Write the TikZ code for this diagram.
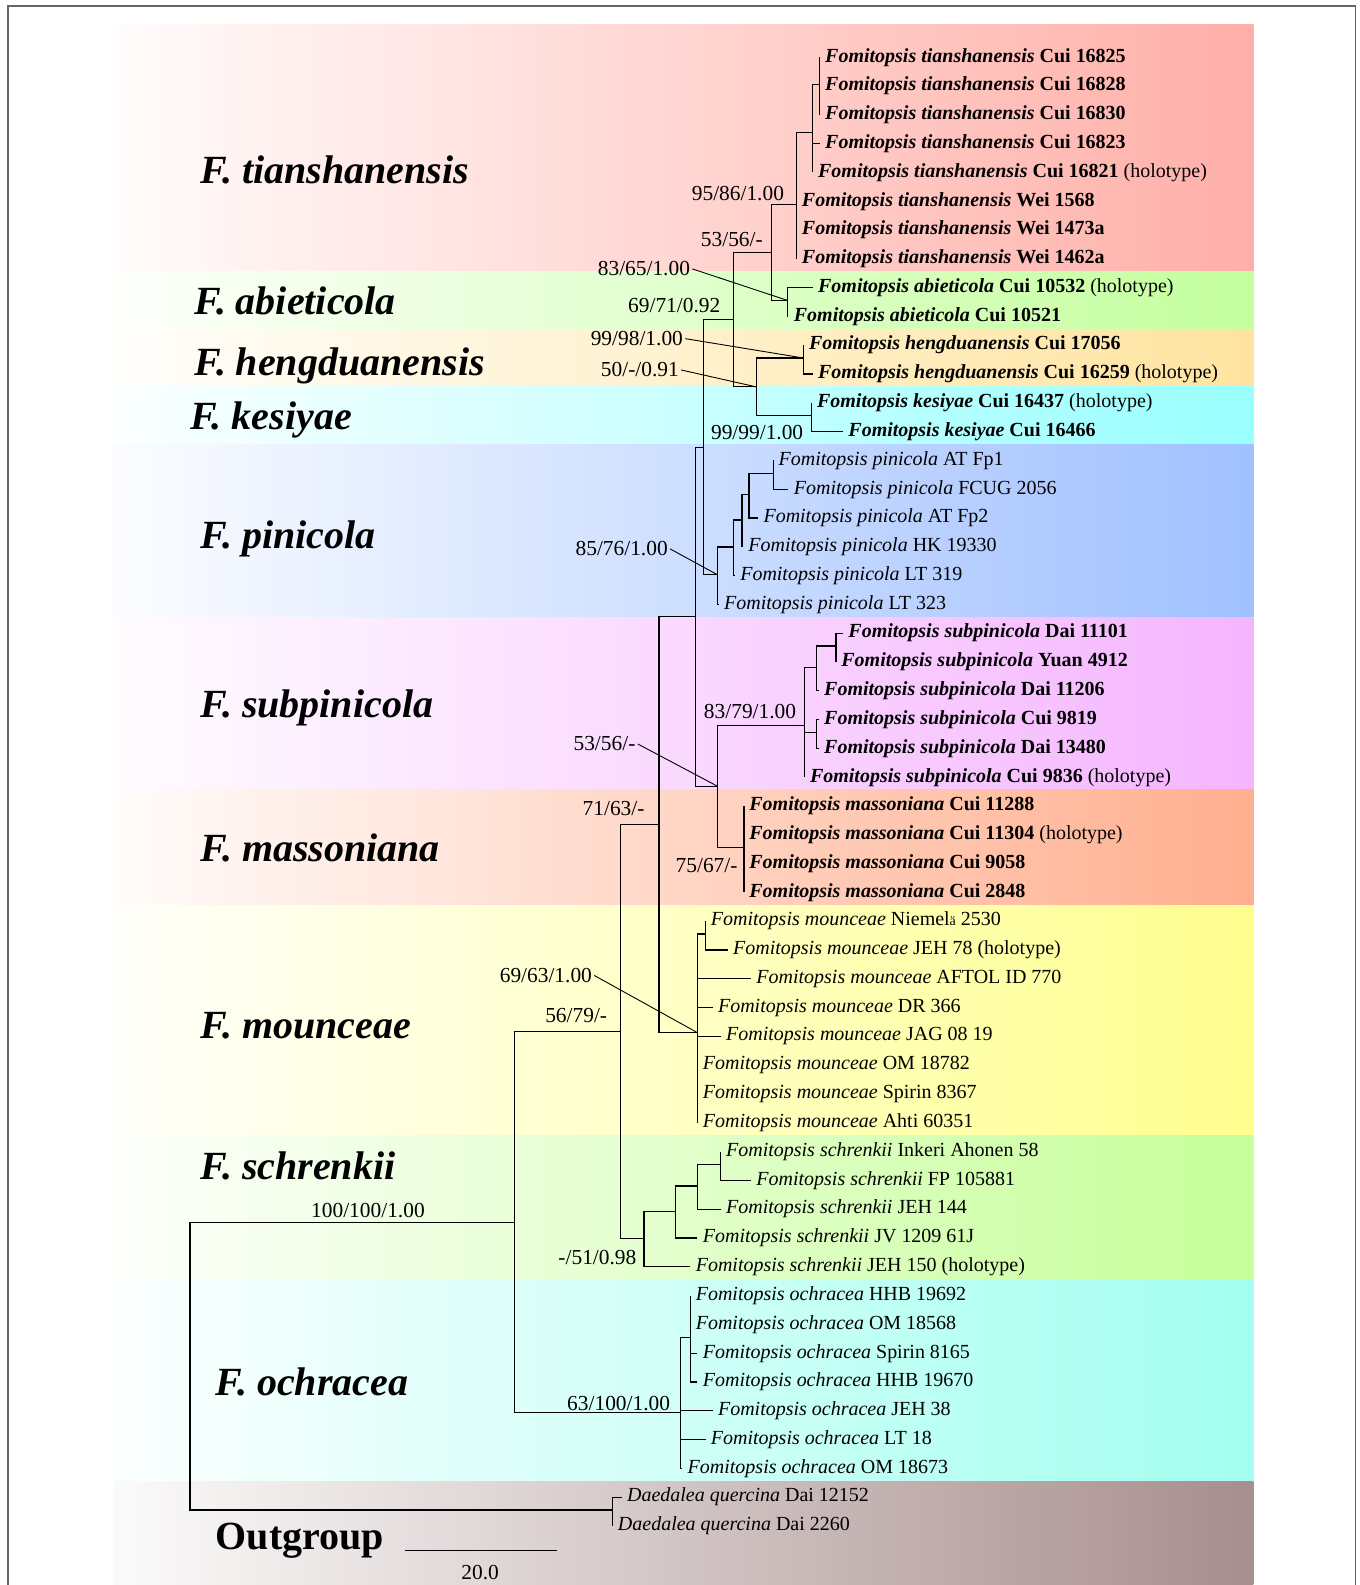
\documentclass[tikz,border=0pt]{standalone}
\usepackage{fontspec}
\setmainfont{Liberation Serif}
\usepackage{tikz}

% band colours
\definecolor{tiacol}{HTML}{FFAFA8}
\definecolor{abicol}{HTML}{C4FF9E}
\definecolor{hencol}{HTML}{FFE4A0}
\definecolor{kescol}{HTML}{99FFFF}
\definecolor{pincol}{HTML}{A0C0FF}
\definecolor{subcol}{HTML}{F5B5FF}
\definecolor{mascol}{HTML}{FFAF8F}
\definecolor{moucol}{HTML}{FFFF8F}
\definecolor{schcol}{HTML}{C7FF9A}
\definecolor{ochcol}{HTML}{A3FFF0}
\definecolor{outcol}{HTML}{A88E8E}

% taxon names
\newcommand{\nsp}[2]{\textbf{\textit{Fomitopsis #1} #2}}
\newcommand{\osp}[2]{\textit{Fomitopsis #1} #2}
\newcommand{\holo}{ (holotype)}

\tikzset{
  branch/.style={line width=0.6pt, black},
  leader/.style={line width=0.45pt, black},
  leaf/.style={anchor=west, inner xsep=2.5pt, inner ysep=0pt, yshift=-0.8pt, font=\fontsize{10}{12}\selectfont},
  supp/.style={inner sep=1pt, font=\fontsize{10.7}{12}\selectfont},
  clade/.style={anchor=west, inner sep=0pt, font=\fontsize{20}{24}\selectfont\bfseries\itshape},
  band/.style={left color=#1!4, right color=#1, draw=none},
}

\begin{document}
\begin{tikzpicture}[x=0.5056pt, y=-0.5056pt]
	\useasboundingbox (0,0) rectangle (1345,1568);

	% Coloured bands behind the clades
	\fill[band=tiacol] (112,24.7) rectangle (1240,268.7);
	\fill[band=abicol] (112,268.7) rectangle (1240,325.6);
	\fill[band=hencol] (112,325.6) rectangle (1240,382.6);
	\fill[band=kescol] (112,382.6) rectangle (1240,439.6);
	\fill[band=pincol] (112,439.6) rectangle (1240,610.5);
	\fill[band=subcol] (112,610.5) rectangle (1240,781.5);
	\fill[band=mascol] (112,781.5) rectangle (1240,895.4);
	\fill[band=moucol] (112,895.4) rectangle (1240,1123.4);
	\fill[band=schcol] (112,1123.4) rectangle (1240,1265.8);
	\fill[band=ochcol] (112,1265.8) rectangle (1240,1465.2);
	\fill[band=outcol] (112,1465.2) rectangle (1240,1568);

	% Outer frame
	\draw[line width=0.6pt, black!60] (8,1575) -- (8,6) -- (1341,6) -- (1341,1575);

	% Clade names
	\node[clade] (ctia) at (198,168) {F. tianshanensis};
	\node[clade] (cabi) at (192,298) {F. abieticola};
	\node[clade] (chen) at (192,362) {F. hengduanensis};
	\node[clade] (ckes) at (188,415) {F. kesiyae};
	\node[clade] (cpin) at (198,533) {F. pinicola};
	\node[clade] (csub) at (198,700) {F. subpinicola};
	\node[clade] (cmas) at (198,839) {F. massoniana};
	\node[clade] (cmou) at (198,1015) {F. mounceae};
	\node[clade] (csch) at (198,1153) {F. schrenkii};
	\node[clade] (coch) at (213,1367) {F. ochracea};
	\node[clade, font=\fontsize{20}{24}\selectfont\bfseries] (cout) at (213,1524) {Outgroup};

	% Leaves
	\node[leaf] (tia1) at (811,55.0) {\nsp{tianshanensis}{Cui 16825}};
	\node[leaf] (tia2) at (811,83.5) {\nsp{tianshanensis}{Cui 16828}};
	\node[leaf] (tia3) at (811,112.0) {\nsp{tianshanensis}{Cui 16830}};
	\node[leaf] (tia4) at (811,140.5) {\nsp{tianshanensis}{Cui 16823}};
	\node[leaf] (tia5) at (804,169.0) {\nsp{tianshanensis}{Cui 16821}\holo};
	\node[leaf] (tia6) at (788,197.5) {\nsp{tianshanensis}{Wei 1568}};
	\node[leaf] (tia7) at (788,225.9) {\nsp{tianshanensis}{Wei 1473a}};
	\node[leaf] (tia8) at (788,254.4) {\nsp{tianshanensis}{Wei 1462a}};
	\node[leaf] (abi1) at (804,282.9) {\nsp{abieticola}{Cui 10532}\holo};
	\node[leaf] (abi2) at (780,311.4) {\nsp{abieticola}{Cui 10521}};
	\node[leaf] (hen1) at (795,339.9) {\nsp{hengduanensis}{Cui 17056}};
	\node[leaf] (hen2) at (804,368.4) {\nsp{hengduanensis}{Cui 16259}\holo};
	\node[leaf] (kes1) at (803,396.9) {\nsp{kesiyae}{Cui 16437}\holo};
	\node[leaf] (kes2) at (834,425.4) {\nsp{kesiyae}{Cui 16466}};
	\node[leaf] (pin1) at (765,453.9) {\osp{pinicola}{AT Fp1}};
	\node[leaf] (pin2) at (780,482.4) {\osp{pinicola}{FCUG 2056}};
	\node[leaf] (pin3) at (750,510.8) {\osp{pinicola}{AT Fp2}};
	\node[leaf] (pin4) at (735,539.3) {\osp{pinicola}{HK 19330}};
	\node[leaf] (pin5) at (727,567.8) {\osp{pinicola}{LT 319}};
	\node[leaf] (pin6) at (711,596.3) {\osp{pinicola}{LT 323}};
	\node[leaf] (sub1) at (834,624.8) {\nsp{subpinicola}{Dai 11101}};
	\node[leaf] (sub2) at (827,653.3) {\nsp{subpinicola}{Yuan 4912}};
	\node[leaf] (sub3) at (810,681.8) {\nsp{subpinicola}{Dai 11206}};
	\node[leaf] (sub4) at (810,710.3) {\nsp{subpinicola}{Cui 9819}};
	\node[leaf] (sub5) at (810,738.8) {\nsp{subpinicola}{Dai 13480}};
	\node[leaf] (sub6) at (796,767.3) {\nsp{subpinicola}{Cui 9836}\holo};
	\node[leaf] (mas1) at (736,795.7) {\nsp{massoniana}{Cui 11288}};
	\node[leaf] (mas2) at (736,824.2) {\nsp{massoniana}{Cui 11304}\holo};
	\node[leaf] (mas3) at (736,852.7) {\nsp{massoniana}{Cui 9058}};
	\node[leaf] (mas4) at (736,881.2) {\nsp{massoniana}{Cui 2848}};
	\node[leaf] (mou1) at (698,909.7) {\osp{mounceae}{Niemel{\fontsize{7}{8}\selectfont ä} 2530}};
	\node[leaf] (mou2) at (720,938.2) {\osp{mounceae}{JEH 78}\holo};
	\node[leaf] (mou3) at (743,966.7) {\osp{mounceae}{AFTOL ID 770}};
	\node[leaf] (mou4) at (705,995.2) {\osp{mounceae}{DR 366}};
	\node[leaf] (mou5) at (713,1023.7) {\osp{mounceae}{JAG 08 19}};
	\node[leaf] (mou6) at (690,1052.2) {\osp{mounceae}{OM 18782}};
	\node[leaf] (mou7) at (690,1080.6) {\osp{mounceae}{Spirin 8367}};
	\node[leaf] (mou8) at (690,1109.1) {\osp{mounceae}{Ahti 60351}};
	\node[leaf] (sch1) at (713,1137.6) {\osp{schrenkii}{Inkeri Ahonen 58}};
	\node[leaf] (sch2) at (743,1166.1) {\osp{schrenkii}{FP 105881}};
	\node[leaf] (sch3) at (713,1194.6) {\osp{schrenkii}{JEH 144}};
	\node[leaf] (sch4) at (690,1223.1) {\osp{schrenkii}{JV 1209 61J}};
	\node[leaf] (sch5) at (683,1251.6) {\osp{schrenkii}{JEH 150}\holo};
	\node[leaf] (och1) at (683,1280.1) {\osp{ochracea}{HHB 19692}};
	\node[leaf] (och2) at (683,1308.6) {\osp{ochracea}{OM 18568}};
	\node[leaf] (och3) at (690,1337.1) {\osp{ochracea}{Spirin 8165}};
	\node[leaf] (och4) at (690,1365.5) {\osp{ochracea}{HHB 19670}};
	\node[leaf] (och5) at (705,1394.0) {\osp{ochracea}{JEH 38}};
	\node[leaf] (och6) at (698,1422.5) {\osp{ochracea}{LT 18}};
	\node[leaf] (och7) at (675,1451.0) {\osp{ochracea}{OM 18673}};
	\node[leaf] (out1) at (615,1479.5) {\textit{Daedalea quercina} Dai 12152};
	\node[leaf] (out2) at (606,1508.0) {\textit{Daedalea quercina} Dai 2260};

	% Internal nodes
	\coordinate (n1) at (811,83.5);
	\coordinate (n2) at (804,131.0);
	\coordinate (n3) at (788,202.2);
	\coordinate (na) at (779,297.2);
	\coordinate (n4) at (763,249.7);
	\coordinate (nh) at (795,354.2);
	\coordinate (nk) at (803,411.2);
	\coordinate (n5) at (748,382.7);
	\coordinate (n6) at (726,316.2);
	\coordinate (p1) at (765,468.2);
	\coordinate (p2) at (741,489.5);
	\coordinate (p3) at (734,514.4);
	\coordinate (p4) at (726,541.1);
	\coordinate (p5) at (710,568.7);
	\coordinate (n7) at (696,442.5);
	\coordinate (s1) at (827,639.1);
	\coordinate (s2) at (808,660.4);
	\coordinate (s3) at (808,724.6);
	\coordinate (s4) at (796,717.4);
	\coordinate (m1) at (736,838.5);
	\coordinate (n8) at (710,777.9);
	\coordinate (n9) at (688,610.2);
	\coordinate (o1) at (698,924.0);
	\coordinate (o2) at (690,1021.6);
	\coordinate (n10) at (652,815.9);
	\coordinate (c1) at (713,1151.9);
	\coordinate (c2) at (690,1173.2);
	\coordinate (c3) at (668,1198.2);
	\coordinate (c4) at (637,1224.9);
	\coordinate (n11) at (614,1020.4);
	\coordinate (h1) at (683,1322.8);
	\coordinate (h0) at (673,1397.6);
	\coordinate (n12) at (509,1209.0);
	\coordinate (g1) at (606,1493.8);
	\coordinate (root) at (188,1209.0);

	% Branches to leaves
	\foreach \c in {tia1,tia2,tia3} \draw[branch] (n1) |- (\c.west);
	\foreach \c in {tia4,tia5} \draw[branch] (n2) |- (\c.west);
	\foreach \c in {tia6,tia7,tia8} \draw[branch] (n3) |- (\c.west);
	\foreach \c in {abi1,abi2} \draw[branch] (na) |- (\c.west);
	\foreach \c in {hen1,hen2} \draw[branch] (nh) |- (\c.west);
	\foreach \c in {kes1,kes2} \draw[branch] (nk) |- (\c.west);
	\foreach \c in {pin1,pin2} \draw[branch] (p1) |- (\c.west);
	\draw[branch] (p2) |- (pin3.west);
	\draw[branch] (p3) |- (pin4.west);
	\draw[branch] (p4) |- (pin5.west);
	\draw[branch] (p5) |- (pin6.west);
	\foreach \c in {sub1,sub2} \draw[branch] (s1) |- (\c.west);
	\draw[branch] (s2) |- (sub3.west);
	\foreach \c in {sub4,sub5} \draw[branch] (s3) |- (\c.west);
	\draw[branch] (s4) |- (sub6.west);
	\foreach \c in {mas1,mas2,mas3,mas4} \draw[branch] (m1) |- (\c.west);
	\foreach \c in {mou1,mou2} \draw[branch] (o1) |- (\c.west);
	\foreach \c in {mou3,mou4,mou5,mou6,mou7,mou8} \draw[branch] (o2) |- (\c.west);
	\foreach \c in {sch1,sch2} \draw[branch] (c1) |- (\c.west);
	\draw[branch] (c2) |- (sch3.west);
	\draw[branch] (c3) |- (sch4.west);
	\draw[branch] (c4) |- (sch5.west);
	\foreach \c in {och1,och2,och3,och4} \draw[branch] (h1) |- (\c.west);
	\foreach \c in {och5,och6,och7} \draw[branch] (h0) |- (\c.west);
	\foreach \c in {out1,out2} \draw[branch] (g1) |- (\c.west);

	% Branches between internal nodes
	\draw[branch] (n2) |- (n1);
	\draw[branch] (n3) |- (n2);
	\draw[branch] (n4) |- (n3);
	\draw[branch] (n4) |- (na);
	\draw[branch] (n5) |- (nh);
	\draw[branch] (n5) |- (nk);
	\draw[branch] (n6) |- (n4);
	\draw[branch] (n6) |- (n5);
	\draw[branch] (p2) |- (p1);
	\draw[branch] (p3) |- (p2);
	\draw[branch] (p4) |- (p3);
	\draw[branch] (p5) |- (p4);
	\draw[branch] (n7) |- (n6);
	\draw[branch] (n7) |- (p5);
	\draw[branch] (s2) |- (s1);
	\draw[branch] (s4) |- (s2);
	\draw[branch] (s4) |- (s3);
	\draw[branch] (n8) |- (s4);
	\draw[branch] (n8) |- (m1);
	\draw[branch] (n9) |- (n7);
	\draw[branch] (n9) |- (n8);
	\draw[branch] (o2) |- (o1);
	\draw[branch] (n10) |- (n9);
	\draw[branch] (n10) |- (o2);
	\draw[branch] (c2) |- (c1);
	\draw[branch] (c3) |- (c2);
	\draw[branch] (c4) |- (c3);
	\draw[branch] (n11) |- (n10);
	\draw[branch] (n11) |- (c4);
	\draw[branch] (h0) |- (h1);
	\draw[branch] (n12) |- (n11);
	\draw[branch] (n12) |- (h0);
	\draw[branch] (root) |- (n12);
	\draw[branch] (root) |- (g1);

	% Support values
	\node[supp] (b1) at (730,191) {95/86/1.00};
	\node[supp] (b2) at (724,237) {53/56/-};
	\node[supp] (b3) at (637,266) {83/65/1.00};
	\node[supp] (b4) at (667,302) {69/71/0.92};
	\node[supp] (b5) at (630,335) {99/98/1.00};
	\node[supp] (b6) at (633,366) {50/-/0.91};
	\node[supp] (b7) at (749,428) {99/99/1.00};
	\node[supp] (b8) at (615,543) {85/76/1.00};
	\node[supp] (b9) at (742,704) {83/79/1.00};
	\node[supp] (b10) at (598,736) {53/56/-};
	\node[supp] (b11) at (607,800) {71/63/-};
	\node[supp] (b12) at (699,856) {75/67/-};
	\node[supp] (b13) at (540,965) {69/63/1.00};
	\node[supp] (b14) at (570,1005) {56/79/-};
	\node[supp] (b15) at (364,1198) {100/100/1.00};
	\node[supp] (b16) at (591,1244) {-/51/0.98};
	\node[supp] (b17) at (612,1388) {63/100/1.00};

	% Leader lines to the nodes
	\draw[leader] (b3.east) -- (na);
	\draw[leader] (b5.east) -- (nh);
	\draw[leader] (b6.east) -- (n5);
	\draw[leader] (b8.east) -- (p5);
	\draw[leader] (b10.east) -- (n8);
	\draw[leader] (b13.east) -- (o2);

	% Scale bar
	\coordinate (sb1) at (401,1534);
	\coordinate (sb2) at (551,1534);
	\draw[branch] (sb1) -- (sb2);
	\node[supp] (sbl) at (475,1556) {20.0};
\end{tikzpicture}
\end{document}
